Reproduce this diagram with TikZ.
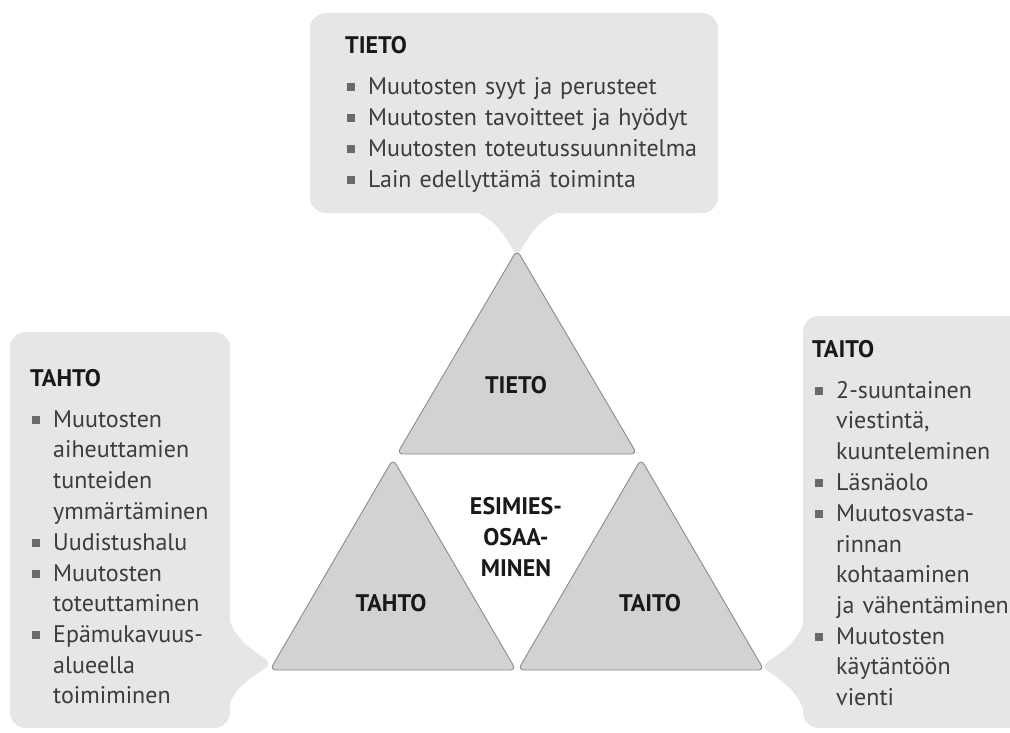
\documentclass[tikz,border=0pt]{standalone}
\usepackage{fontspec}
\setmainfont{PT Sans}
\definecolor{boxgray}{HTML}{E6E6E6}
\definecolor{trigray}{HTML}{D2D2D2}
\definecolor{edgegray}{HTML}{8C8C8C}
\definecolor{textgray}{HTML}{3C3C3C}
\definecolor{bulletgray}{HTML}{6A6A6A}
\tikzset{
  itemtext/.style={anchor=north west,inner sep=0pt,align=left,text width=#1,text=textgray,
    font={\fontsize{24}{30.6}\selectfont},
    execute at begin node=\strut,execute at end node=\strut},
  itemtext/.default=180pt,
  boxhead/.style={anchor=base west,inner sep=0pt,text=black!90,
    font={\fontsize{24}{30.6}\selectfont\bfseries}},
  blt/.style={fill=bulletgray,minimum size=8pt,inner sep=0pt},
  tri/.style={fill=trigray,draw=edgegray,line width=0.9pt,rounded corners=6pt},
  trilabel/.style={inner sep=0pt,align=center,text=black!90,
    font={\fontsize{24}{31}\selectfont\bfseries}}
}
\begin{document}
\begin{tikzpicture}[x=1pt,y=-1pt]
\useasboundingbox (0,0) rectangle (1010,733);
\fill[white] (0,0) rectangle (1010,733);

\fill[boxgray,rounded corners=16pt] (310,13) rectangle (718,213);
\fill[boxgray] (465,210) .. controls (490,212) and (505,235) .. (512,248)
  .. controls (515,254) and (519,254) .. (522,248)
  .. controls (529,235) and (544,212) .. (569,210) -- cycle;
\fill[boxgray,rounded corners=16pt] (10,332) rectangle (230,728);
\fill[boxgray] (228,612) .. controls (230,635) and (252,650) .. (264,658)
  .. controls (270,662) and (270,665) .. (264,669)
  .. controls (252,677) and (230,690) .. (228,712) -- cycle;
\fill[boxgray,rounded corners=16pt] (803,316) rectangle (1040,728);
\fill[boxgray] (805,615) .. controls (803,638) and (781,653) .. (769,661)
  .. controls (763,665) and (763,668) .. (769,672)
  .. controls (781,680) and (803,695) .. (805,718) -- cycle;

\draw[tri] (517,250) -- (637,454) -- (397,454) -- cycle;
\draw[tri] (393,459) -- (516,670) -- (270,670) -- cycle;
\draw[tri] (641,459) -- (764,670) -- (518,670) -- cycle;
\node[trilabel] (tieto) at (516,385) {TIETO};
\node[trilabel] (tahto) at (391,603) {TAHTO};
\node[trilabel] (taito) at (650,603) {TAITO};
\node[trilabel] (esimies) at (516,537) {ESIMIES-\\OSAA-\\MINEN};

\node[boxhead] (tietohead) at (345,54) {TIETO};
\node[itemtext=340pt] (tieto1) at (368,72.6) {Muutosten syyt ja perusteet};
\node[itemtext=340pt] (tieto2) at (tieto1.south west) {Muutosten tavoitteet ja hyödyt};
\node[itemtext=340pt] (tieto3) at (tieto2.south west) {Muutosten toteutussuunnitelma};
\node[itemtext=340pt] (tieto4) at (tieto3.south west) {Lain edellyttämä toiminta};

\node[boxhead] (tahtohead) at (30,386) {TAHTO};
\node[itemtext] (tahto1) at (53,405.6) {Muutosten\\aiheuttamien\\tunteiden\\ymmärtäminen};
\node[itemtext] (tahto2) at (tahto1.south west) {Uudistushalu};
\node[itemtext] (tahto3) at (tahto2.south west) {Muutosten\\toteuttaminen};
\node[itemtext] (tahto4) at (tahto3.south west) {Epämukavuus-\\alueella\\toimiminen};

\node[boxhead] (taitohead) at (812,357) {TAITO};
\node[itemtext] (taito1) at (836,376.6) {2-suuntainen\\viestintä,\\kuunteleminen};
\node[itemtext] (taito2) at (taito1.south west) {Läsnäolo};
\node[itemtext] (taito3) at (taito2.south west) {Muutosvasta-\\rinnan\\kohtaaminen\\ja vähentäminen};
\node[itemtext] (taito4) at (taito3.south west) {Muutosten\\käytäntöön\\vienti};

\foreach \n in {tieto1,tieto2,tieto3,tieto4,tahto1,tahto2,tahto3,tahto4,taito1,taito2,taito3,taito4}
  \node[blt] at ([xshift=-17.5pt,yshift=-14.4pt]\n.north west) {};
\end{tikzpicture}
\end{document}
